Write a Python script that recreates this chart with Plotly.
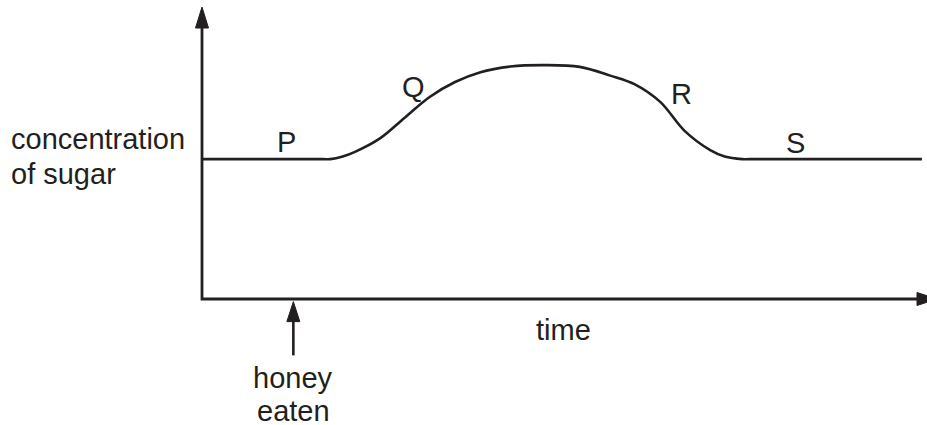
import plotly.graph_objects as go

# sugar concentration against time (both on a 0-100 scale)
time = [0, 16.7, 17.7, 19.4, 21.1, 24.6, 28.0, 31.4, 34.9, 38.3, 42.5, 47.3, 52.1, 56.3, 59.7,
        63.2, 66.6, 70.1, 72.1, 74.5, 75.5, 99.3]
sugar = [47.9, 47.9, 47.9, 48.8, 50.4, 55.1, 62.2, 69.2, 74.3, 77.6, 79.6, 80.1, 79.5, 76.5, 73.5,
         67.5, 57.5, 51.0, 48.8, 47.9, 47.9, 47.9]

phase_labels = ["P", "Q", "R", "S"]
phase_time = [11.6, 29.2, 66.1, 81.8]
phase_sugar = [53.6, 72.5, 70.2, 53.3]

honey_time = 12.6

INK = "#231f20"
FONT = dict(family="Liberation Sans, Arial, Helvetica, sans-serif", size=29, color=INK)

fig = go.Figure()
fig.add_trace(go.Scatter(
    x=time, y=sugar, mode="lines",
    line=dict(color=INK, width=2.6, shape="spline", smoothing=1),
    hoverinfo="skip", showlegend=False,
))

# axes drawn by hand with arrow heads
fig.add_shape(type="path", xref="x", yref="y", path="M 0 95 L 0 0 L 100 0",
              line=dict(color=INK, width=2.8))
fig.add_shape(type="path", xref="x", yref="y", xsizemode="pixel", ysizemode="pixel",
              xanchor=0, yanchor=100, path="M 0 0 L -6.5 -21 L 6.5 -21 Z",
              fillcolor=INK, line=dict(color=INK, width=1))
fig.add_shape(type="path", xref="x", yref="y", xsizemode="pixel", ysizemode="pixel",
              xanchor=100, yanchor=0, path="M 10 0 L -10 6.5 L -10 -6.5 Z",
              fillcolor=INK, line=dict(color=INK, width=1))

# honey eaten arrow
fig.add_shape(type="line", xref="x", yref="y", x0=honey_time, x1=honey_time, y0=-19.3, y1=-6.5,
              line=dict(color=INK, width=2.6))
fig.add_shape(type="path", xref="x", yref="y", xsizemode="pixel", ysizemode="pixel",
              xanchor=honey_time, yanchor=-0.9, path="M 0 0 L -6.5 -20 L 6.5 -20 Z",
              fillcolor=INK, line=dict(color=INK, width=1))

for lab, t, s in zip(phase_labels, phase_time, phase_sugar):
    fig.add_annotation(x=t, y=s, text=lab, showarrow=False, font=FONT,
                       xanchor="center", yanchor="middle")

# multi-line labels placed line by line to match the tighter line spacing
fig.add_annotation(x=-26.6, y=54.8, text="concentration", showarrow=False,
                   font=FONT, xanchor="left", yanchor="middle")
fig.add_annotation(x=-26.6, y=42.8, text="of sugar", showarrow=False,
                   font=FONT, xanchor="left", yanchor="middle")
fig.add_annotation(x=49.9, y=-10.6, text="time", showarrow=False, font=FONT,
                   xanchor="center", yanchor="middle")
fig.add_annotation(x=honey_time, y=-26.9, text="honey", showarrow=False, font=FONT,
                   xanchor="center", yanchor="middle")
fig.add_annotation(x=honey_time, y=-38.5, text="eaten", showarrow=False, font=FONT,
                   xanchor="center", yanchor="middle")

fig.update_layout(
    width=927, height=425,
    margin=dict(l=0, r=0, t=0, b=0),
    paper_bgcolor="white", plot_bgcolor="white",
    xaxis=dict(range=[-202 / 7.25, 100], visible=False, fixedrange=True),
    yaxis=dict(range=[-126 / 2.92, 299 / 2.92], visible=False, fixedrange=True),
)

# the page body has an 8px margin by default; drop it so the figure fills the window
fig.write_html("out.html", config={"displayModeBar": False},
               post_script="document.body.style.margin='0';document.body.style.overflow='hidden';")
